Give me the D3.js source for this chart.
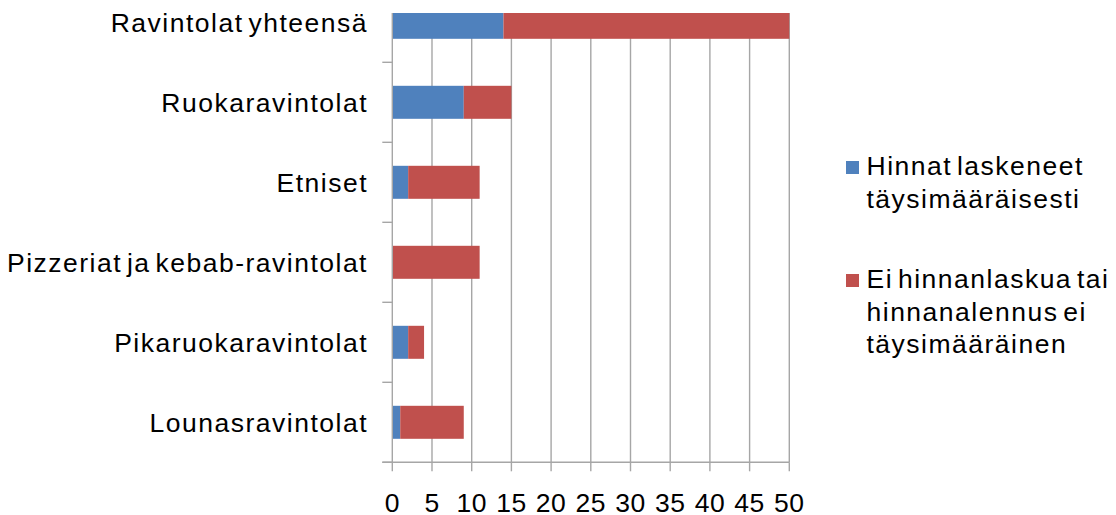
<!DOCTYPE html>
<html>
<head>
<meta charset="utf-8">
<script src="https://cdn.jsdelivr.net/npm/d3@7"></script>
<style>
  html, body { margin: 0; padding: 0; background: #fff; }
  svg { display: block; }
  text { font-family: "Liberation Sans", Arial, sans-serif; fill: #000; }
</style>
</head>
<body>
<svg id="chart" width="1116" height="515"></svg>
<script>
// Restaurant categories, top to bottom
const categories = [
  "Ravintolat yhteensä",
  "Ruokaravintolat",
  "Etniset",
  "Pizzeriat ja kebab-ravintolat",
  "Pikaruokaravintolat",
  "Lounasravintolat"
];
// Prices lowered fully
const fullyLowered = [14, 9, 2, 0, 2, 1];
// No price cut or price cut not full
const notFull = [36, 6, 9, 11, 2, 8];

const seriesNames = [
  ["Hinnat laskeneet", "täysimääräisesti"],
  ["Ei hinnanlaskua tai", "hinnanalennus ei", "täysimääräinen"]
];
const seriesColors = ["#4F81BD", "#C0504D"];
const xTicks = [0, 5, 10, 15, 20, 25, 30, 35, 40, 45, 50];

const svg = d3.select("#chart");
const W = 1116, H = 515;
svg.append("rect").attr("width", W).attr("height", H).attr("fill", "#fff");

const plotLeft = 392.3, plotRight = 789.3, plotBottom = 462.3, plotTop = 13;
const bandStep = 80;

const x = d3.scaleLinear().domain([0, 50]).range([plotLeft, plotRight]);
const y = d3.scaleBand()
  .domain(categories)
  .range([plotBottom - bandStep * categories.length, plotBottom])
  .padding(0);

const barH = 33;
const gridColor = "#A6A6A6";
const fontSize = 26.5;

svg.append("defs").append("clipPath").attr("id", "plotClip")
  .append("rect")
  .attr("x", plotLeft - 20).attr("y", plotTop)
  .attr("width", plotRight - plotLeft + 40).attr("height", plotBottom - plotTop + 20);

const plot = svg.append("g").attr("clip-path", "url(#plotClip)");

// vertical gridlines
plot.append("g").selectAll("line")
  .data(xTicks.filter(d => d > 0))
  .join("line")
  .attr("x1", d => x(d)).attr("x2", d => x(d))
  .attr("y1", plotTop).attr("y2", plotBottom)
  .attr("stroke", gridColor).attr("stroke-width", 1.4);

// stacked bars
const rows = categories.map((c, i) => ({ cat: c, a: fullyLowered[i], b: notFull[i] }));
const barsG = plot.append("g");
rows.forEach(r => {
  const cy = y(r.cat) + y.bandwidth() / 2;
  if (r.a > 0) {
    barsG.append("rect")
      .attr("x", x(0)).attr("y", cy - barH / 2)
      .attr("width", x(r.a) - x(0)).attr("height", barH)
      .attr("fill", seriesColors[0]);
  }
  barsG.append("rect")
    .attr("x", x(r.a)).attr("y", cy - barH / 2)
    .attr("width", x(r.a + r.b) - x(r.a)).attr("height", barH)
    .attr("fill", seriesColors[1]);
});

// vertical (category) axis line and tick marks at band boundaries
plot.append("line")
  .attr("x1", plotLeft).attr("x2", plotLeft)
  .attr("y1", plotTop).attr("y2", plotBottom)
  .attr("stroke", gridColor).attr("stroke-width", 1.4);
const boundaries = categories.map(c => y(c) + y.bandwidth());
svg.append("g").selectAll("line")
  .data(boundaries)
  .join("line")
  .attr("x1", plotLeft - 10).attr("x2", plotLeft)
  .attr("y1", d => d).attr("y2", d => d)
  .attr("stroke", gridColor).attr("stroke-width", 1.4);

// horizontal (value) axis line and ticks
svg.append("line")
  .attr("x1", plotLeft - 10).attr("x2", plotRight)
  .attr("y1", plotBottom).attr("y2", plotBottom)
  .attr("stroke", gridColor).attr("stroke-width", 1.4);
svg.append("g").selectAll("line")
  .data(xTicks)
  .join("line")
  .attr("x1", d => x(d)).attr("x2", d => x(d))
  .attr("y1", plotBottom).attr("y2", plotBottom + 9)
  .attr("stroke", gridColor).attr("stroke-width", 1.4);

// value tick labels
svg.append("g").selectAll("text")
  .data(xTicks)
  .join("text")
  .attr("x", d => x(d))
  .attr("y", 511.5)
  .attr("text-anchor", "middle")
  .attr("font-size", fontSize)
  .attr("letter-spacing", 0.5)
  .text(d => d);

// category labels
svg.append("g").selectAll("text")
  .data(categories)
  .join("text")
  .attr("x", 368)
  .attr("y", d => y(d) + y.bandwidth() / 2)
  .attr("dy", "0.35em")
  .attr("text-anchor", "end")
  .attr("font-size", fontSize)
  .attr("letter-spacing", 1.5)
  .attr("word-spacing", -4)
  .text(d => d);

// legend
const legendItems = [
  { lines: seriesNames[0], color: seriesColors[0], base: 175 },
  { lines: seriesNames[1], color: seriesColors[1], base: 288 }
];
const lg = svg.append("g");
legendItems.forEach(item => {
  lg.append("rect")
    .attr("x", 846).attr("y", item.base - 14)
    .attr("width", 13).attr("height", 13)
    .attr("fill", item.color);
  item.lines.forEach((ln, j) => {
    lg.append("text")
      .attr("x", 866.5)
      .attr("y", item.base + j * 32.7)
      .attr("font-size", fontSize)
      .attr("letter-spacing", 1.5)
      .attr("word-spacing", -4)
      .text(ln);
  });
});
</script>
</body>
</html>
